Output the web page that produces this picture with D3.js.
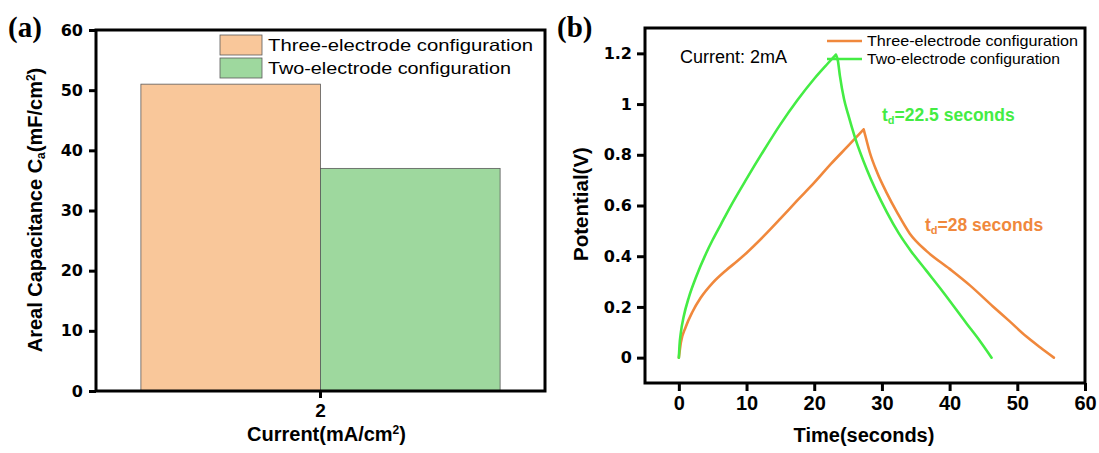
<!DOCTYPE html>
<html>
<head>
<meta charset="utf-8">
<script src="https://cdn.jsdelivr.net/npm/d3@7"></script>
<style>
  html, body { margin: 0; padding: 0; background: #fff; }
  svg { display: block; }
  text { font-family: "Liberation Sans", Arial, sans-serif; fill: #000; }
</style>
</head>
<body>
<svg id="fig" width="1099" height="453"></svg>
<script>
// ---- Panel (a): areal capacitance bars ----
const currentCategories = ["2"];
const seriesNames = ["Three-electrode configuration", "Two-electrode configuration"];
const threeElectrodeCap = [51];
const twoElectrodeCap = [37];
const capTicks = [0, 10, 20, 30, 40, 50, 60];

// ---- Panel (b): galvanostatic charge/discharge ----
const threeElectrodeTime = [0, 0.3, 1, 2, 3.2, 5, 7, 8.6, 10, 12.5, 15, 17.5, 20, 22.5, 25, 27.3,
  27.6, 28.2, 29.3, 30.7, 32.3, 34.1, 36.6, 40, 43, 46.4, 48.8, 51.3, 53.4, 55.4];
const threeElectrodeVolt = [0, 0.06, 0.12, 0.18, 0.235, 0.295, 0.345, 0.38, 0.413, 0.478, 0.548, 0.62, 0.69, 0.765, 0.835, 0.9,
  0.87, 0.81, 0.73, 0.65, 0.57, 0.49, 0.42, 0.35, 0.285, 0.202, 0.145, 0.084, 0.04, 0];
const twoElectrodeTime = [0, 0.1, 0.3, 0.7, 1.5, 2.5, 4, 5, 6.2, 7.5, 10, 12.5, 15, 17.5, 20, 22, 23.2,
  23.5, 23.8, 24.4, 25, 26, 27.8, 30.7, 32.5, 34.3, 36.5, 39, 42.5, 44.5, 46.2];
const twoElectrodeVolt = [0, 0.05, 0.1, 0.16, 0.24, 0.315, 0.41, 0.465, 0.525, 0.59, 0.705, 0.815, 0.92, 1.015, 1.1, 1.16, 1.195,
  1.17, 1.11, 1.02, 0.96, 0.87, 0.74, 0.575, 0.49, 0.42, 0.345, 0.26, 0.135, 0.065, 0];
const timeTicks = [0, 10, 20, 30, 40, 50, 60];
const voltTicks = [0, 0.2, 0.4, 0.6, 0.8, 1, 1.2];

const barFill = ["#F9C79A", "#9ED89E"];
const lineColor = ["#F0883C", "#44EC44"];

const svg = d3.select("#fig");
svg.append("rect").attr("width", 1099).attr("height", 453).attr("fill", "#fff");

// ================= Panel (a) =================
const A = { left: 96, right: 545, top: 30, bottom: 391 };
const xA = d3.scaleBand().domain(currentCategories).range([A.left, A.right])
  .paddingOuter(0.125).paddingInner(0);
const subA = d3.scaleBand().domain(seriesNames).range([0, xA.bandwidth()]);
const yA = d3.scaleLinear().domain([0, 60]).range([A.bottom, A.top]);

const gA = svg.append("g");
const barRows = currentCategories.map((c, i) => ({
  cat: c, vals: [threeElectrodeCap[i], twoElectrodeCap[i]]
}));
gA.selectAll("g.cat").data(barRows).join("g").attr("class", "cat")
  .attr("transform", d => `translate(${xA(d.cat)},0)`)
  .selectAll("rect").data(d => d.vals.map((v, k) => ({ v, k })))
  .join("rect")
  .attr("x", d => subA(seriesNames[d.k]))
  .attr("width", subA.bandwidth())
  .attr("y", d => yA(d.v))
  .attr("height", d => yA(0) - yA(d.v))
  .attr("fill", d => barFill[d.k])
  .attr("stroke", "#5a5a5a").attr("stroke-width", 0.8);

// frame
gA.append("rect").attr("x", A.left).attr("y", A.top)
  .attr("width", A.right - A.left).attr("height", A.bottom - A.top)
  .attr("fill", "none").attr("stroke", "#000").attr("stroke-width", 3);

const yAxisA = gA.append("g").attr("transform", `translate(${A.left},0)`)
  .call(d3.axisLeft(yA).tickValues(capTicks).tickSize(7).tickPadding(6).tickFormat(d3.format("d")));
yAxisA.select(".domain").remove();
yAxisA.selectAll(".tick line").attr("stroke-width", 3);
yAxisA.selectAll(".tick text").style("font-family", "'DejaVu Sans', sans-serif")
  .style("font-weight", "bold").style("font-size", "16px");

const xAxisA = gA.append("g").attr("transform", `translate(0,${A.bottom})`)
  .call(d3.axisBottom(xA).tickSize(7).tickPadding(6));
xAxisA.select(".domain").remove();
xAxisA.selectAll(".tick line").attr("stroke-width", 3);
xAxisA.selectAll(".tick text").style("font-weight", "bold").style("font-size", "19px");

// legend (a)
const legA = gA.append("g");
seriesNames.forEach((name, k) => {
  const y0 = 35 + k * 23;
  legA.append("rect").attr("x", 220).attr("y", y0).attr("width", 42).attr("height", 20)
    .attr("fill", barFill[k]).attr("stroke", "#5a5a5a").attr("stroke-width", 0.8);
  legA.append("text").attr("x", 268).attr("y", y0 + 16)
    .style("font-size", "16.5px")
    .attr("textLength", k === 0 ? 265 : 243).attr("lengthAdjust", "spacingAndGlyphs")
    .text(name);
});

// axis titles (a)
const yTitleA = gA.append("text")
  .attr("transform", "translate(42,210) rotate(-90)")
  .attr("text-anchor", "middle").style("font-weight", "bold").style("font-size", "20px");
yTitleA.append("tspan").text("Areal Capacitance C");
yTitleA.append("tspan").attr("baseline-shift", "-25%").style("font-size", "12px").text("a");
yTitleA.append("tspan").text("(mF/cm");
yTitleA.append("tspan").attr("baseline-shift", "super").style("font-size", "12px").text("2");
yTitleA.append("tspan").text(")");

const xTitleA = gA.append("text").attr("x", (A.left + A.right) / 2 + 6).attr("y", 441)
  .attr("text-anchor", "middle").style("font-weight", "bold").style("font-size", "20px");
xTitleA.append("tspan").text("Current(mA/cm");
xTitleA.append("tspan").attr("baseline-shift", "super").style("font-size", "12px").text("2");
xTitleA.append("tspan").text(")");

svg.append("text").attr("x", 8).attr("y", 37)
  .style("font-family", "'Liberation Serif', 'Times New Roman', serif")
  .style("font-weight", "bold").style("font-size", "29px").text("(a)");

// ================= Panel (b) =================
const B = { left: 645, right: 1085, top: 28, bottom: 383 };
const xB = d3.scaleLinear().domain([-5, 60]).range([B.left, B.right]);
const yB = d3.scaleLinear().domain([-0.1, 1.3]).range([B.bottom, B.top]);
const gB = svg.append("g");

const curves = [
  { t: threeElectrodeTime, v: threeElectrodeVolt, color: lineColor[0] },
  { t: twoElectrodeTime, v: twoElectrodeVolt, color: lineColor[1] }
];
const line = d3.line().x(d => xB(d[0])).y(d => yB(d[1])).curve(d3.curveMonotoneX);
// charge and discharge branches are smoothed separately so the turn-over stays sharp
function gcdPath(c) {
  const pts = c.t.map((t, i) => [t, c.v[i]]);
  const peak = d3.maxIndex(c.v);
  return line(pts.slice(0, peak + 1)) + line(pts.slice(peak));
}
gB.selectAll("path.gcd").data(curves).join("path").attr("class", "gcd")
  .attr("d", gcdPath)
  .attr("fill", "none").attr("stroke", c => c.color).attr("stroke-width", 2.6)
  .attr("stroke-linejoin", "round").attr("stroke-linecap", "round");

gB.append("rect").attr("x", B.left).attr("y", B.top)
  .attr("width", B.right - B.left).attr("height", B.bottom - B.top)
  .attr("fill", "none").attr("stroke", "#000").attr("stroke-width", 3);

const yAxisB = gB.append("g").attr("transform", `translate(${B.left},0)`)
  .call(d3.axisLeft(yB).tickValues(voltTicks).tickSize(8).tickPadding(5).tickFormat(d3.format("~g")));
yAxisB.select(".domain").remove();
yAxisB.selectAll(".tick line").attr("stroke-width", 3);
yAxisB.selectAll(".tick text").style("font-family", "'DejaVu Sans', sans-serif")
  .style("font-weight", "bold").style("font-size", "16px");

const xAxisB = gB.append("g").attr("transform", `translate(0,${B.bottom})`)
  .call(d3.axisBottom(xB).tickValues(timeTicks).tickSize(8).tickPadding(5).tickFormat(d3.format("d")));
xAxisB.select(".domain").remove();
xAxisB.selectAll(".tick line").attr("stroke-width", 3);
xAxisB.selectAll(".tick text").style("font-weight", "bold").style("font-size", "20px");

// legend (b)
seriesNames.forEach((name, k) => {
  const y0 = 41 + k * 18;
  gB.append("line").attr("x1", 827).attr("x2", 862).attr("y1", y0).attr("y2", y0)
    .attr("stroke", lineColor[k]).attr("stroke-width", 2.6);
  gB.append("text").attr("x", 867).attr("y", y0 + 5)
    .style("font-size", "14.5px")
    .attr("textLength", k === 0 ? 211 : 193).attr("lengthAdjust", "spacingAndGlyphs")
    .text(name);
});

gB.append("text").attr("x", 680).attr("y", 63).style("font-size", "18px").text("Current: 2mA");

const tdTwo = gB.append("text").attr("x", 882).attr("y", 121)
  .style("font-weight", "bold").style("font-size", "17.5px").style("fill", lineColor[1]);
tdTwo.append("tspan").text("t");
tdTwo.append("tspan").attr("baseline-shift", "-30%").style("font-size", "11px").text("d");
tdTwo.append("tspan").text("=22.5 seconds");

const tdThree = gB.append("text").attr("x", 925).attr("y", 231)
  .style("font-weight", "bold").style("font-size", "17.5px").style("fill", lineColor[0]);
tdThree.append("tspan").text("t");
tdThree.append("tspan").attr("baseline-shift", "-30%").style("font-size", "11px").text("d");
tdThree.append("tspan").text("=28 seconds");

gB.append("text").attr("transform", "translate(588,204) rotate(-90)")
  .attr("text-anchor", "middle").style("font-weight", "bold").style("font-size", "20.5px")
  .text("Potential(V)");
gB.append("text").attr("x", 864).attr("y", 442).attr("text-anchor", "middle")
  .style("font-weight", "bold").style("font-size", "20px").text("Time(seconds)");

svg.append("text").attr("x", 557).attr("y", 37)
  .style("font-family", "'Liberation Serif', 'Times New Roman', serif")
  .style("font-weight", "bold").style("font-size", "29px").text("(b)");
</script>
</body>
</html>
